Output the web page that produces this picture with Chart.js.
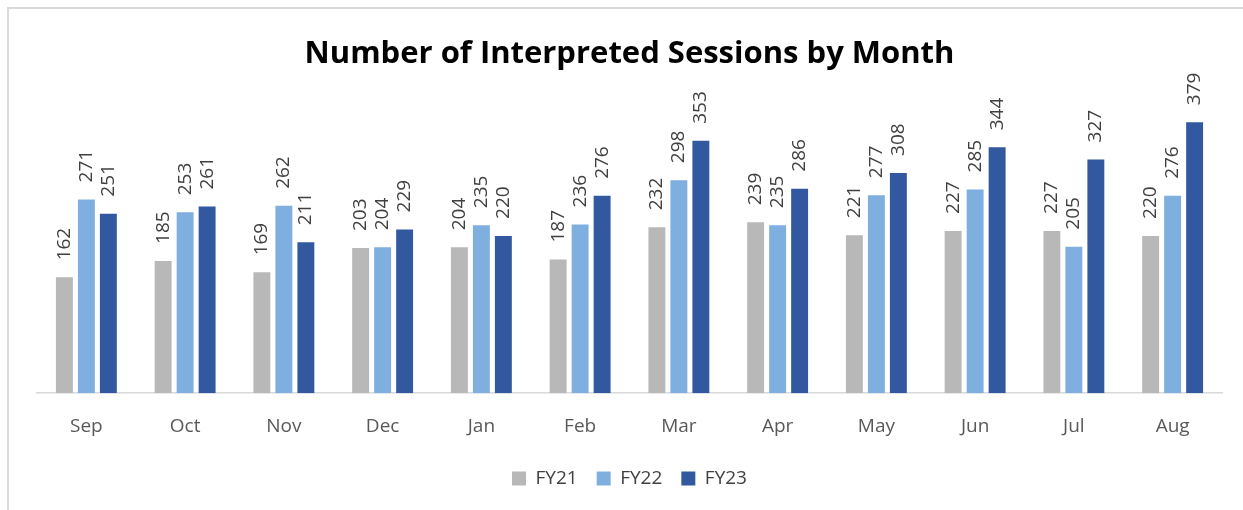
<!DOCTYPE html>
<html lang="en">
<head>
  <meta charset="UTF-8">
  <title>Number of Interpreted Sessions by Month</title>
  <script src="https://cdn.jsdelivr.net/npm/chart.js"></script>
  <style>
    body {
      margin: 0;
      background: white;
      font-family: 'Open Sans', sans-serif;
      overflow: hidden;
    }
    .frame {
      position: absolute;
      left: 7px;
      top: 7px;
      width: 1260px;
      height: 530px;
      border: 2px solid #d9d9d9;
    }
    canvas {
      position: absolute;
      left: 0;
      top: 0;
    }
  </style>
</head>
<body>

<div class="frame"></div>
<canvas id="grafica" width="1243" height="510"></canvas>

<script>
  const months = ['Sep', 'Oct', 'Nov', 'Dec', 'Jan', 'Feb', 'Mar', 'Apr', 'May', 'Jun', 'Jul', 'Aug'];
  const fy21 = [162, 185, 169, 203, 204, 187, 232, 239, 221, 227, 227, 220];
  const fy22 = [271, 253, 262, 204, 235, 236, 298, 235, 277, 285, 205, 276];
  const fy23 = [251, 261, 211, 229, 220, 276, 353, 286, 308, 344, 327, 379];

  // rotated value labels above each bar
  const etiquetas = {
    id: 'etiquetas',
    afterDatasetsDraw(chart) {
      const ctx = chart.ctx;
      ctx.save();
      ctx.font = '19px "Open Sans"';
      ctx.fillStyle = '#404040';
      ctx.textAlign = 'left';
      ctx.textBaseline = 'middle';
      chart.data.datasets.forEach((ds, i) => {
        chart.getDatasetMeta(i).data.forEach((bar, j) => {
          ctx.save();
          ctx.translate(bar.x, bar.y - 17);
          ctx.rotate(-Math.PI / 2);
          ctx.fillText(ds.data[j], 0, 0);
          ctx.restore();
        });
      });
      ctx.restore();
    }
  };

  new Chart(document.getElementById('grafica'), {
    type: 'bar',
    data: {
      labels: months,
      datasets: [
        { label: 'FY21', data: fy21, backgroundColor: '#b8b8b8' },
        { label: 'FY22', data: fy22, backgroundColor: '#7eafdf' },
        { label: 'FY23', data: fy23, backgroundColor: '#3259a0' }
      ]
    },
    options: {
      responsive: false,
      animation: false,
      layout: { padding: { left: 37, right: 21, top: 36, bottom: 12 } },
      datasets: { bar: { categoryPercentage: 0.668, barPercentage: 0.77 } },
      plugins: {
        title: {
          display: true,
          text: 'Number of Interpreted Sessions by Month',
          color: '#000',
          font: { family: 'Open Sans', size: 31, weight: 'bold' },
          padding: { top: 0, bottom: 34 }
        },
        legend: {
          position: 'bottom',
          labels: {
            color: '#404040',
            font: { family: 'Open Sans', size: 19 },
            boxWidth: 14,
            boxHeight: 14,
            padding: 19
          }
        },
        tooltip: { enabled: false }
      },
      scales: {
        x: {
          grid: { display: false, drawTicks: false },
          border: { color: '#d9d9d9', width: 1.5 },
          ticks: { color: '#595959', font: { family: 'Open Sans', size: 19 }, padding: 22 },
          afterFit(scale) { scale.height -= 10; }
        },
        y: { display: false, min: 0, max: 400 }
      }
    },
    plugins: [etiquetas]
  });
</script>

</body>
</html>
